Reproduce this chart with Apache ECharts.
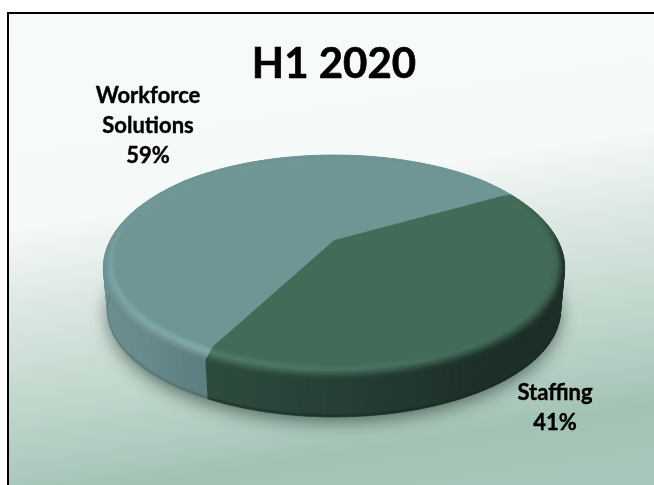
<!DOCTYPE html>
<html><head><meta charset="utf-8">
<style>html,body{margin:0;padding:0;background:#fff}#c{width:654px;height:485px}</style>
<script src="https://cdn.jsdelivr.net/npm/echarts@6/dist/echarts.min.js"></script>
</head><body><div id="c"></div>
<script>
const titleText = 'H1 2020';
const categories = ['Staffing', 'Workforce Solutions'];
const shares = [41, 59];

const FONT = 'Lato, Carlito, Calibri, sans-serif';
const START = -30;            // degrees clockwise from 3 o'clock
const faces = ['#436c58', '#6f9594'];
const peaks = [
  [[-30,'#436c58'],[0,'#3e6452'],[30,'#3f6754'],[60,'#446e5a'],[90,'#4a7562'],[118,'#507e69']],
  [[117,'#84acae'],[150,'#7fa8aa'],[175,'#78a1a3'],[195,'#739b9c'],[215,'#6f9594'],[330,'#6f9594']]
];
const sides = [
  [[-30,'#436c58'],[-10,'#3a5c4c'],[5,'#1f322b'],[30,'#1c2c27'],[60,'#1d2f29'],[90,'#263f35'],[118,'#2e4d3e']],
  [[117,'#5d7d7f'],[135,'#688a8c'],[165,'#6d9092'],[180,'#6f9395'],[200,'#6f9594'],[330,'#6f9594']]
];
const edgeDarken = [0.4, 0.15];
const labelAnchors = [[555, 408], [148, 126]];

// perspective disc projection
const CX = 334, APEX = 240, A = 225.6, K = 103.4, P = -0.2166, DEPTH = 47.6, SHRINK = 0.02;
function proj(thetaDeg, r, z) {
  const t = thetaDeg * Math.PI / 180, u = r * Math.cos(t), v = r * Math.sin(t);
  const den = 1 + P * v, s = 1 - SHRINK * z;
  return [CX + s * A * u / den, APEX + z * DEPTH + s * K * v / den];
}
const hex = h => [1,3,5].map(i => parseInt(h.substr(i,2),16));
const mixRgb = (a,b,t) => a.map((x,i)=>x+(b[i]-x)*t);
const css = c => `rgb(${c.map(x=>Math.round(x)).join(',')})`;
function table(tbl, x) {
  if (x <= tbl[0][0]) return hex(tbl[0][1]);
  for (let i = 1; i < tbl.length; i++) if (x <= tbl[i][0])
    return mixRgb(hex(tbl[i-1][1]), hex(tbl[i][1]), (x-tbl[i-1][0])/(tbl[i][0]-tbl[i-1][0]));
  return hex(tbl[tbl.length-1][1]);
}
const R_IN = 0.95, Z_B = 0.15;
const prof = (th, t) => {
  const zb = Z_B * Math.min(1, Math.max(0, 0.5 + 0.5*Math.sin(th*Math.PI/180)*1.5));
  return [R_IN + (1-R_IN)*t, zb*t];
};
const poly = (pts, col) => ({type:'polygon', shape:{points:pts}, style:{fill:col, stroke:col, lineWidth:0.7}, silent:true});

function renderSlice(params, api) {
  const i = params.dataIndex, total = shares.reduce((a,b)=>a+b,0);
  const val = api.value(1);
  let before = 0; for (let k=0;k<i;k++) before += shares[k];
  const a0 = START + before/total*360, a1 = a0 + val/total*360;
  const children = [];
  const step = 2, N = Math.ceil((a1-a0)/step), d = (a1-a0)/N;
  const face = hex(faces[i]);
  // side wall
  for (let n=0;n<N;n++) {
    const th0=a0+n*d, th1=th0+d, mid=(th0+th1)/2;
    if (mid>-20 && mid<200) {
      const c = table(sides[i], mid);
      const p0=prof(th0,1), p1=prof(th1,1), Zm=0.95;
      children.push(poly([proj(th0,1,p0[1]),proj(th1,1,p1[1]),proj(th1,1,Zm),proj(th0,1,Zm)], css(c)));
      children.push(poly([proj(th0,1,Zm),proj(th1,1,Zm),proj(th1,1,1),proj(th0,1,1)], css(mixRgb(c,[20,32,28],edgeDarken[i]))));
    }
  }
  // bevel
  const LV = 10;
  for (let n=0;n<N;n++) {
    const th0=a0+n*d, th1=th0+d, mid=(th0+th1)/2;
    const pk=table(peaks[i],mid), end=table(sides[i],mid);
    for (let l=0;l<LV;l++) {
      const t0=l/LV, t1=(l+1)/LV, tm=(t0+t1)/2;
      const c = tm<0.4 ? mixRgb(face,pk,tm/0.4) : mixRgb(pk,end,(tm-0.4)/0.6);
      const a=prof(th0,t0), b=prof(th1,t0), e=prof(th1,t1), f=prof(th0,t1);
      children.push(poly([proj(th0,a[0],a[1]),proj(th1,b[0],b[1]),proj(th1,e[0],e[1]),proj(th0,f[0],f[1])], css(c)));
    }
  }
  // top face
  const pts=[proj(0,0,0)];
  for (let n=0;n<=N;n++) pts.push(proj(a0+n*d,R_IN,0));
  children.push({type:'polygon',shape:{points:pts},style:{fill:faces[i],stroke:faces[i],lineWidth:0.5},silent:true});
  // label
  children.push({type:'text',x:labelAnchors[i][0],y:labelAnchors[i][1],silent:true,
    style:{text:categories[i].replace(' ','\n')+'\n'+val+'%',fill:'#000',stroke:'#000',lineWidth:0.4,font:`bold 22px ${FONT}`,
      textAlign:'center',textVerticalAlign:'middle',lineHeight:30}});
  return {type:'group',children};
}
function renderShadow() {
  const pts=[]; for(let a=0;a<360;a+=3) pts.push(proj(a,0.99,1));
  return {type:'polygon',shape:{points:pts},silent:true,
    style:{fill:'#5a7568',shadowBlur:20,shadowColor:'rgba(50,70,60,0.85)',shadowOffsetY:5}};
}
const chart = echarts.init(document.getElementById('c'), null, {renderer:'canvas'});
chart.setOption({
  animation:false,
  backgroundColor:'#ffffff',
  title:{text:titleText,left:329,top:38,textAlign:'center',
    textStyle:{fontFamily:FONT,fontWeight:'bold',fontSize:42,color:'#000',textBorderColor:'#000',textBorderWidth:0.6}},
  graphic:[{type:'rect',z:-10,silent:true,shape:{x:8,y:13,width:700,height:520},
    style:{stroke:'#000',lineWidth:2,fill:new echarts.graphic.LinearGradient(0,0,86,553,[
      {offset:0,color:'#f6faf9'},{offset:0.407,color:'#f5f9f8'},{offset:0.535,color:'#dfe9e4'},
      {offset:0.70,color:'#c3d9ce'},{offset:0.83,color:'#afcbbf'},{offset:0.893,color:'#a2c3b4'},{offset:1,color:'#a8c6b9'}],true)}}],
  series:[
    {type:'custom',coordinateSystem:'none',z:1,data:[[0]],renderItem:renderShadow},
    {type:'custom',coordinateSystem:'none',z:2,data:categories.map((c,i)=>[i,shares[i]]),renderItem:renderSlice}
  ]
});
</script></body></html>
